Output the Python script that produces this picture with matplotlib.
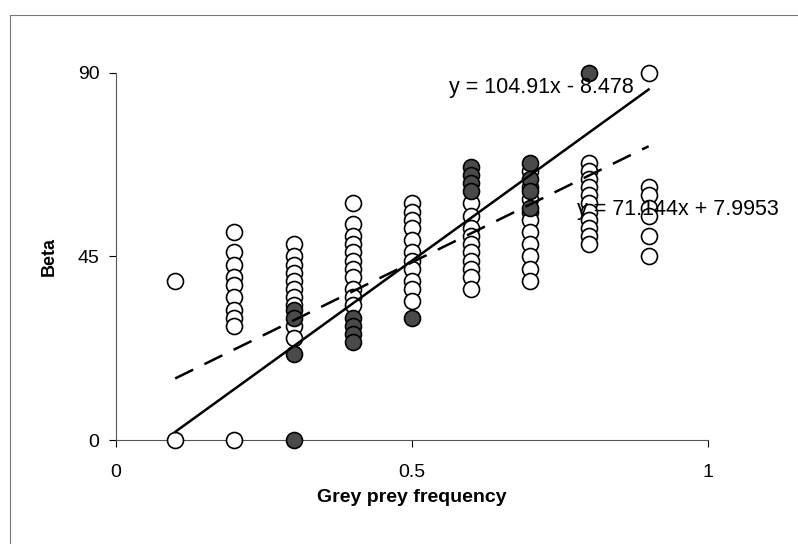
import matplotlib.pyplot as plt
import numpy as np

plt.rcParams['font.family'] = ['Liberation Sans', 'DejaVu Sans']

# open circles: grey prey frequency -> beta values
open_pts = {
    0.1: [0, 39],
    0.2: [0, 51, 46, 43, 40, 38, 35, 32, 30, 28],
    0.3: [48, 45, 43, 41, 39, 37, 35, 33, 28, 25],
    0.4: [58, 53, 50, 48, 46, 44, 42, 40, 37, 35, 33],
    0.5: [58, 56, 54, 52, 49, 46, 44, 42, 39, 37, 34],
    0.6: [58, 55, 52, 50, 48, 46, 44, 42, 40, 37],
    0.7: [66, 62, 59, 56, 54, 51, 48, 45, 42, 39],
    0.8: [68, 66, 64, 62, 60, 58, 56, 54, 52, 50, 48],
    0.9: [90, 62, 60, 57, 55, 50, 45],
}
# filled circles
filled_pts = {
    0.3: [0, 32, 30, 21],
    0.4: [30, 28, 26, 24],
    0.5: [30],
    0.6: [67, 65, 63, 61],
    0.7: [68, 64, 61, 57],
    0.8: [90],
}

# trendline coefficients as printed on the chart
solid_fit = (104.91, -8.478)
dashed_fit = (71.144, 7.9953)
fit_range = [0.1, 0.9]


def flatten(d):
    xs, ys = [], []
    for k, vals in d.items():
        xs += [k] * len(vals)
        ys += vals
    return np.array(xs), np.array(ys)


fig = plt.figure(figsize=(7.98, 5.44), dpi=100)
ax = fig.add_axes([0.1454, 0.191, 0.887 - 0.1454, 0.866 - 0.191])

xo, yo = flatten(open_pts)
xf, yf = flatten(filled_pts)
ax.plot(xo, yo, 'o', ms=11.5, mfc='white', mec='black', mew=1.2, clip_on=False, zorder=3)
ax.plot(xf, yf, 'o', ms=11.5, mfc='#4a4a4a', mec='black', mew=1.2, clip_on=False, zorder=3)

xl = np.array(fit_range)
ax.plot(xl, solid_fit[0] * xl + solid_fit[1], '-', color='black', lw=1.8, zorder=4)
ax.plot(xl, dashed_fit[0] * xl + dashed_fit[1], '--', color='black', lw=1.8,
        dashes=(8, 5), zorder=4)

ax.text(0.562, 86.3, 'y = 104.91x - 8.478', fontsize=15.5, va='center', ha='left', zorder=5)
ax.text(0.779, 56.4, 'y = 71.144x + 7.9953', fontsize=15.5, va='center', ha='left', zorder=5)

ax.set_xlim(0, 1)
ax.set_ylim(0, 90)
ax.set_xticks([0, 0.5, 1])
ax.set_xticklabels(['0', '0.5', '1'])
ax.set_yticks([0, 45, 90])
ax.tick_params(direction='out', length=5, width=0.8, labelsize=14)
ax.tick_params(axis='x', pad=12)
ax.tick_params(axis='y', pad=7)
for s in ['top', 'right']:
    ax.spines[s].set_visible(False)
for s in ['left', 'bottom']:
    ax.spines[s].set_color('#555555')
    ax.spines[s].set_linewidth(0.8)

ax.set_xlabel('Grey prey frequency', fontsize=14, fontweight='bold', labelpad=6)
ax.set_ylabel('Beta', fontsize=13, fontweight='bold', labelpad=14)

# outer frame of the original chart
fig.add_artist(plt.Line2D([10 / 798, 1], [1 - 15 / 544, 1 - 15 / 544],
                          transform=fig.transFigure, color='#777777', lw=0.8))
fig.add_artist(plt.Line2D([10 / 798, 10 / 798], [0, 1 - 15 / 544],
                          transform=fig.transFigure, color='#777777', lw=0.8))

fig.savefig('out.png', dpi=100)
